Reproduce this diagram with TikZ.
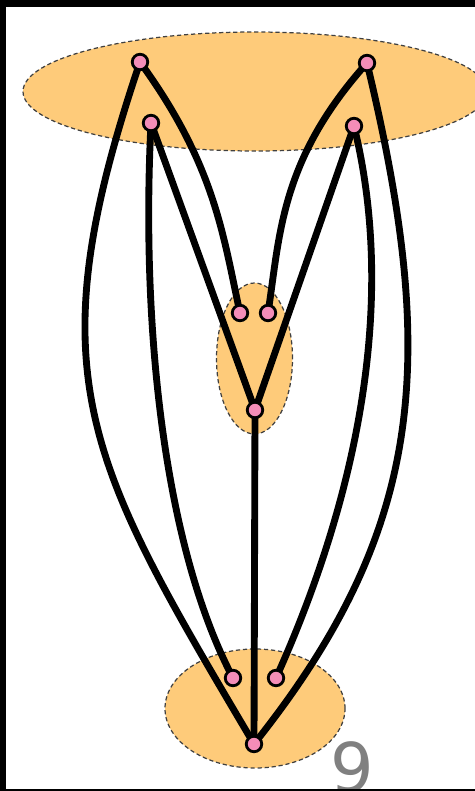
\documentclass[tikz,border=0pt]{standalone}
\usepackage{fontspec}
\newfontfamily\pagefont{DejaVu Sans}
\usepackage{tikz}
\usetikzlibrary{calc,backgrounds}

\definecolor{zonefill}{RGB}{254,203,122}
\definecolor{vertexfill}{RGB}{244,141,184}
\definecolor{pagegray}{RGB}{128,128,128}

\begin{document}
\begin{tikzpicture}[every node/.style={outer sep=0pt,thick}]

\tikzstyle{vertex}=[circle,draw=black,fill=vertexfill,line width=1.6pt,minimum size=0.31cm,inner sep=0pt]
\tikzstyle{zone}=[fill=zonefill,draw=black!75,line width=0.7pt,dash pattern=on 2.4pt off 1.6pt]
\tikzstyle{link}=[line width=3.9pt,line cap=round]

\useasboundingbox (0cm,0cm) rectangle (9.5cm,-15.82cm);
\clip (0cm,0cm) rectangle (9.5cm,-15.82cm);

% vertices
\node (a1) at (2.80cm,-1.24cm) [vertex] {};
\node (a2) at (3.02cm,-2.46cm) [vertex] {};
\node (a3) at (7.34cm,-1.26cm) [vertex] {};
\node (a4) at (7.08cm,-2.52cm) [vertex] {};
\node (m1) at (4.80cm,-6.26cm) [vertex] {};
\node (m2) at (5.36cm,-6.26cm) [vertex] {};
\node (m3) at (5.10cm,-8.20cm) [vertex] {};
\node (b1) at (4.66cm,-13.56cm) [vertex] {};
\node (b2) at (5.52cm,-13.56cm) [vertex] {};
\node (b3) at (5.08cm,-14.88cm) [vertex] {};

\begin{scope}[on background layer]
% zones
\draw [zone] (5.10cm,-1.83cm) ellipse (4.64cm and 1.19cm);
\draw [zone] (5.09cm,-7.17cm) ellipse (0.76cm and 1.51cm);
\draw [zone] (5.10cm,-14.17cm) ellipse (1.80cm and 1.19cm);

% links
\draw [link] (a1.center) .. controls (0.68cm,-7.52cm) and (1.72cm,-9.20cm) .. (b3.center);
\draw [link] (a3.center) .. controls (8.74cm,-7.10cm) and (8.56cm,-10.52cm) .. (b3.center);
\draw [link] (a2.center) .. controls (2.82cm,-6.46cm) and (3.26cm,-10.90cm) .. (b1.center);
\draw [link] (a4.center) .. controls (7.94cm,-6.02cm) and (7.16cm,-9.92cm) .. (b2.center);
\draw [link] (a1.center) .. controls (4.30cm,-3.30cm) and (4.46cm,-4.70cm) .. (m1.center);
\draw [link] (a3.center) .. controls (5.60cm,-3.20cm) and (5.60cm,-4.70cm) .. (m2.center);
\draw [link] (a2.center) -- (m3.center);
\draw [link] (a4.center) -- (m3.center);
\draw [link] (m3.center) -- (b3.center);
\end{scope}

\node (pagenum) at (7.04cm,-15.84cm) [anchor=base,text=pagegray,font=\pagefont\fontsize{39}{39}\selectfont] {9};

% frame
\fill [black] (0cm,0cm) rectangle (0.12cm,-15.82cm);
\fill [black] (0cm,0cm) rectangle (9.5cm,-0.14cm);
\fill [black] (0cm,-15.78cm) rectangle (9.5cm,-15.82cm);

\end{tikzpicture}
\end{document}
